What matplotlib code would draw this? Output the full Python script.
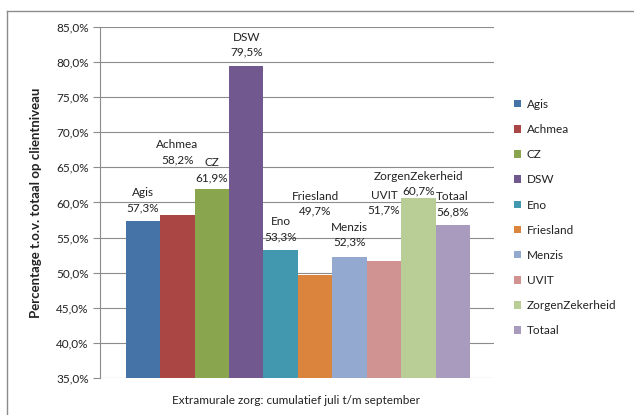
import matplotlib.pyplot as plt
from matplotlib.patches import Patch
from matplotlib.lines import Line2D

plt.rcParams['font.family'] = ['Lato', 'DejaVu Sans']

# data
verzekeraars = ["Agis", "Achmea", "CZ", "DSW", "Eno", "Friesland", "Menzis",
                "UVIT", "ZorgenZekerheid", "Totaal"]
percentages = [57.3, 58.2, 61.9, 79.5, 53.3, 49.7, 52.3, 51.7, 60.7, 56.8]
kleuren = ["#4572A7", "#AA4643", "#89A54E", "#71588F", "#4198AF",
           "#DB843D", "#93A9CF", "#D19392", "#B9CD96", "#A99BBD"]
y_ticks = [35, 40, 45, 50, 55, 60, 65, 70, 75, 80, 85]

# label offsets (pixels above bar top), Excel placed them a bit randomly
label_offset = [8, 50, 6, 8, 7, 58, 9, 45, 1, 8]

W, H = 634, 415
fig = plt.figure(figsize=(W / 100, H / 100), dpi=100)
ax = fig.add_axes([100 / W, 1 - 378 / H, 394 / W, 351 / H])

x = list(range(len(verzekeraars)))
ax.bar(x, [p - 35 for p in percentages], bottom=35, width=1.0, color=kleuren, zorder=2)

for xi, naam, p, off in zip(x, verzekeraars, percentages, label_offset):
    ax.annotate(naam + "\n" + ("%.1f%%" % p).replace(".", ","), (xi, p),
                xytext=(0, off), textcoords="offset pixels",
                ha="center", va="bottom", fontsize=8.5, linespacing=1.45,
                color="#222222", zorder=3)

ax.set_ylim(35, 85)
ax.set_xlim(-1.25, 10.2)
ax.set_yticks(y_ticks)
ax.set_yticklabels([("%.1f%%" % t).replace(".", ",") for t in y_ticks], fontsize=8.5,
                   color="#222222")
ax.set_xticks([])
ax.grid(axis="y", color="#8c8c8c", linewidth=0.8, zorder=0)
ax.tick_params(axis="y", length=5, color="#8c8c8c", width=0.8, pad=3)
for s in ["top", "right", "bottom"]:
    ax.spines[s].set_visible(False)
ax.spines["left"].set_color("#8c8c8c")
ax.spines["left"].set_linewidth(0.8)

ax.set_ylabel("Percentage t.o.v. totaal op clientniveau", fontsize=9.5,
              fontweight="bold", color="#222222")
ax.yaxis.set_label_coords(-58 / 394, 0.5)
fig.text(296 / W, 1 - 400 / H, "Extramurale zorg: cumulatief juli t/m september",
         ha="center", va="center", fontsize=8.5, color="#222222")

handles = [Patch(facecolor=c, edgecolor="none") for c in kleuren]
fig.legend(handles, verzekeraars, loc="upper left",
           bbox_to_anchor=(508 / W, 1 - 93 / H), frameon=False, fontsize=8.5,
           handlelength=0.6, handleheight=0.6, handletextpad=0.5,
           labelspacing=1.2, borderpad=0, labelcolor="#222222")

# outer chart border (top and left only visible)
fig.add_artist(Line2D([7 / W, 1], [1 - 11 / H, 1 - 11 / H], color="#8c8c8c",
                      linewidth=1, transform=fig.transFigure))
fig.add_artist(Line2D([7 / W, 7 / W], [0, 1 - 11 / H], color="#8c8c8c",
                      linewidth=1, transform=fig.transFigure))

plt.savefig("out.png", dpi=100)
